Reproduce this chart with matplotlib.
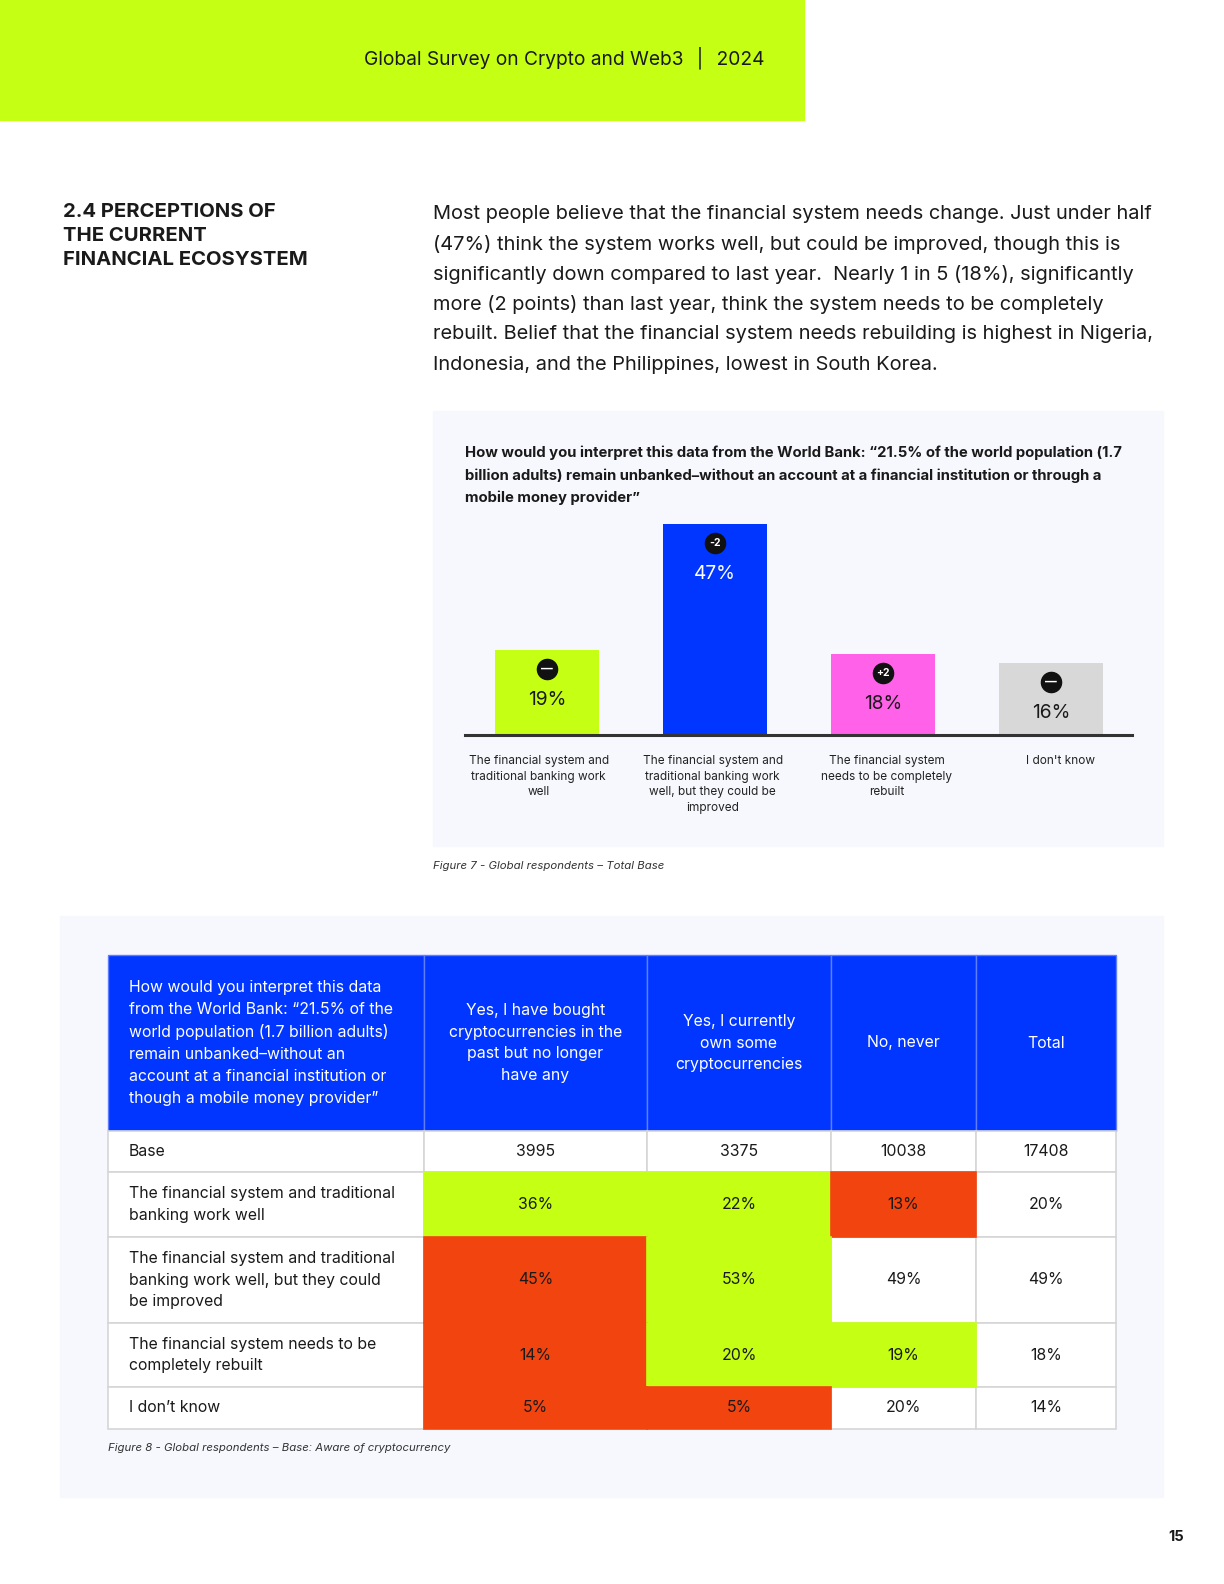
import matplotlib
matplotlib.use("Agg")
import matplotlib.pyplot as plt
from matplotlib.patches import Rectangle
from matplotlib.transforms import offset_copy

plt.rcParams['font.family'] = ['Inter', 'DejaVu Sans']

# ---- data ----
bar_labels = ["The financial system and\ntraditional banking work\nwell",
              "The financial system and\ntraditional banking work\nwell, but they could be\nimproved",
              "The financial system\nneeds to be completely\nrebuilt",
              "I don't know"]
bar_values = [19, 47, 18, 16]
bar_change = ["\u2014", "-2", "+2", "\u2014"]
bar_colors = ["#C4FF14", "#0036FF", "#FF61E9", "#D8D8D8"]

table_cols = ["Yes, I have bought\ncryptocurrencies in the\npast but no longer\nhave any",
              "Yes, I currently\nown some\ncryptocurrencies",
              "No, never", "Total"]
table_question = ("How would you interpret this data\nfrom the World Bank: \u201c21.5% of the\n"
                  "world population (1.7 billion adults)\nremain unbanked\u2013without an\n"
                  "account at a financial institution or\nthough a mobile money provider\u201d")
row_labels = ["Base",
              "The financial system and traditional\nbanking work well",
              "The financial system and traditional\nbanking work well, but they could\nbe improved",
              "The financial system needs to be\ncompletely rebuilt",
              "I don\u2019t know"]
base = [3995, 3375, 10038, 17408]
pct_bought_past = [36, 45, 14, 5]
pct_own_now = [22, 53, 20, 5]
pct_never = [13, 49, 19, 20]
pct_total = [20, 49, 18, 14]
# significance flags: g = higher, r = lower, '' = none
flag_bought_past = ["g", "r", "r", "r"]
flag_own_now = ["g", "g", "g", "r"]
flag_never = ["r", "", "g", ""]
flag_total = ["", "", "", ""]

GREEN = "#C4FF14"
RED = "#F2440F"
BLUE = "#0036FF"
DARK = "#1A1A1A"
PANEL = "#F7F8FD"

fig = plt.figure(figsize=(12.24, 15.84), dpi=100)
page = fig.add_axes([0, 0, 1, 1])
page.set_xlim(0, 1224)
page.set_ylim(1584, 0)
page.axis("off")

# header band
page.add_patch(Rectangle((0, 0), 804, 120, color=GREEN, zorder=0))
page.text(765, 58, "Global Survey on Crypto and Web3  \u2502  2024", ha="right", va="center",
          fontsize=13.8, color=DARK)

# section title
page.text(63, 236, "2.4 PERCEPTIONS OF\nTHE CURRENT\nFINANCIAL ECOSYSTEM", ha="left", va="center",
          fontsize=14.6, fontweight="bold", color=DARK, linespacing=1.42)

body = ["Most people believe that the financial system needs change. Just under half",
        "(47%) think the system works well, but could be improved, though this is",
        "significantly down compared to last year.  Nearly 1 in 5 (18%), significantly",
        "more (2 points) than last year, think the system needs to be completely",
        "rebuilt. Belief that the financial system needs rebuilding is highest in Nigeria,",
        "Indonesia, and the Philippines, lowest in South Korea."]
for i, line in enumerate(body):
    page.text(433, 214 + i * 30.1, line, ha="left", va="center", fontsize=14.4, color=DARK)

# bar chart panel
page.add_patch(Rectangle((433, 411), 730, 435, color=PANEL, zorder=0))
title = ["How would you interpret this data from the World Bank: \u201c21.5% of the world population (1.7",
         "billion adults) remain unbanked\u2013without an account at a financial institution or through a",
         "mobile money provider\u201d"]
for i, line in enumerate(title):
    page.text(465, 453 + i * 22.3, line, ha="left", va="center", fontsize=10.7,
              fontweight="bold", color=DARK)
page.text(433, 866, "Figure 7 - Global respondents \u2013 Total Base", ha="left", va="center",
          fontsize=8.2, style="italic", color="#333333")

ax = fig.add_axes([465 / 1224, 1 - 735 / 1584, (1132 - 465) / 1224, 211 / 1584])
ax.patch.set_alpha(0)
xs = list(range(len(bar_values)))
ax.bar(xs, bar_values, width=0.619, color=bar_colors, zorder=2)
ax.set_xlim(-82 / 168, 585 / 168)
ax.set_ylim(0, 47)
for s in ["top", "right", "left"]:
    ax.spines[s].set_visible(False)
ax.spines["bottom"].set_linewidth(2.2)
ax.spines["bottom"].set_color("#333333")
ax.set_yticks([])
ax.set_xticks([])
badge_tr = offset_copy(ax.transData, fig=fig, y=-19, units="dots")
value_tr = offset_copy(ax.transData, fig=fig, y=-50, units="dots")
label_tr = offset_copy(ax.transData, fig=fig, y=-20, units="dots")
for x, v, ch, c in zip(xs, bar_values, bar_change, bar_colors):
    ax.plot(x, v, "o", ms=14.5, color="#111111", transform=badge_tr, zorder=3, clip_on=False)
    ax.text(x, v, ch, transform=badge_tr, ha="center", va="center",
            fontsize=7.5 if ch.startswith(("+", "-")) else 8.5,
            fontweight="bold", color="white", zorder=4)
    ax.text(x, v, f"{v}%", transform=value_tr, ha="center", va="center", fontsize=13.8,
            color="white" if c == BLUE else DARK, zorder=4)
# label columns are spaced a little wider than the bars
for x, lab in zip(xs, bar_labels):
    ax.text(x * 1.036 - 0.05, 0, lab, transform=label_tr, ha="center", va="top", fontsize=8.5,
            color="#222222", linespacing=1.4)

# table panel
page.add_patch(Rectangle((60, 916), 1103, 581, color=PANEL, zorder=0))
col_edges = [108, 424, 647, 831, 976, 1116]
row_edges = [955, 1131, 1172, 1237, 1323, 1387, 1429]

# header
for j in range(5):
    page.add_patch(Rectangle((col_edges[j], row_edges[0]), col_edges[j + 1] - col_edges[j],
                             row_edges[1] - row_edges[0], fc=BLUE, ec="#5F7DFF", lw=1, zorder=1))
hy = (row_edges[0] + row_edges[1]) / 2
page.text(129, hy, table_question, ha="left", va="center", fontsize=11.4, color="white",
          linespacing=1.58, zorder=3)
for j, name in enumerate(table_cols):
    cx = (col_edges[j + 1] + col_edges[j + 2]) / 2
    page.text(cx, hy, name, ha="center", va="center", fontsize=11.4, color="white",
              linespacing=1.58, zorder=3)

columns = [pct_bought_past, pct_own_now, pct_never, pct_total]
flags = [flag_bought_past, flag_own_now, flag_never, flag_total]
fill = {"g": GREEN, "r": RED}

for i, lab in enumerate(row_labels):
    y0, y1 = row_edges[i + 1], row_edges[i + 2]
    cy = (y0 + y1) / 2
    page.add_patch(Rectangle((col_edges[0], y0), col_edges[1] - col_edges[0], y1 - y0,
                             fc="white", ec="#D6D6D6", lw=1.2, zorder=1))
    page.text(129, cy, lab, ha="left", va="center", fontsize=11.4, color=DARK,
              linespacing=1.58, zorder=3)
    for j in range(4):
        x0, x1 = col_edges[j + 1], col_edges[j + 2]
        if i == 0:
            txt, f = str(base[j]), ""
        else:
            txt, f = f"{columns[j][i - 1]}%", flags[j][i - 1]
        if f:
            page.add_patch(Rectangle((x0, y0), x1 - x0, y1 - y0, fc=fill[f], ec=fill[f],
                                     lw=1.2, zorder=2))
        else:
            page.add_patch(Rectangle((x0, y0), x1 - x0, y1 - y0, fc="white", ec="#D6D6D6",
                                     lw=1.2, zorder=1))
        page.text((x0 + x1) / 2, cy, txt, ha="center", va="center", fontsize=11.4,
                  color=DARK, zorder=3)

page.text(108, 1448, "Figure 8 - Global respondents \u2013 Base: Aware of cryptocurrency",
          ha="left", va="center", fontsize=8.2, style="italic", color="#333333")

page.text(1184, 1537, "15", ha="right", va="center", fontsize=10.5, fontweight="bold", color=DARK)

fig.savefig("out.png", dpi=100, facecolor="white")
